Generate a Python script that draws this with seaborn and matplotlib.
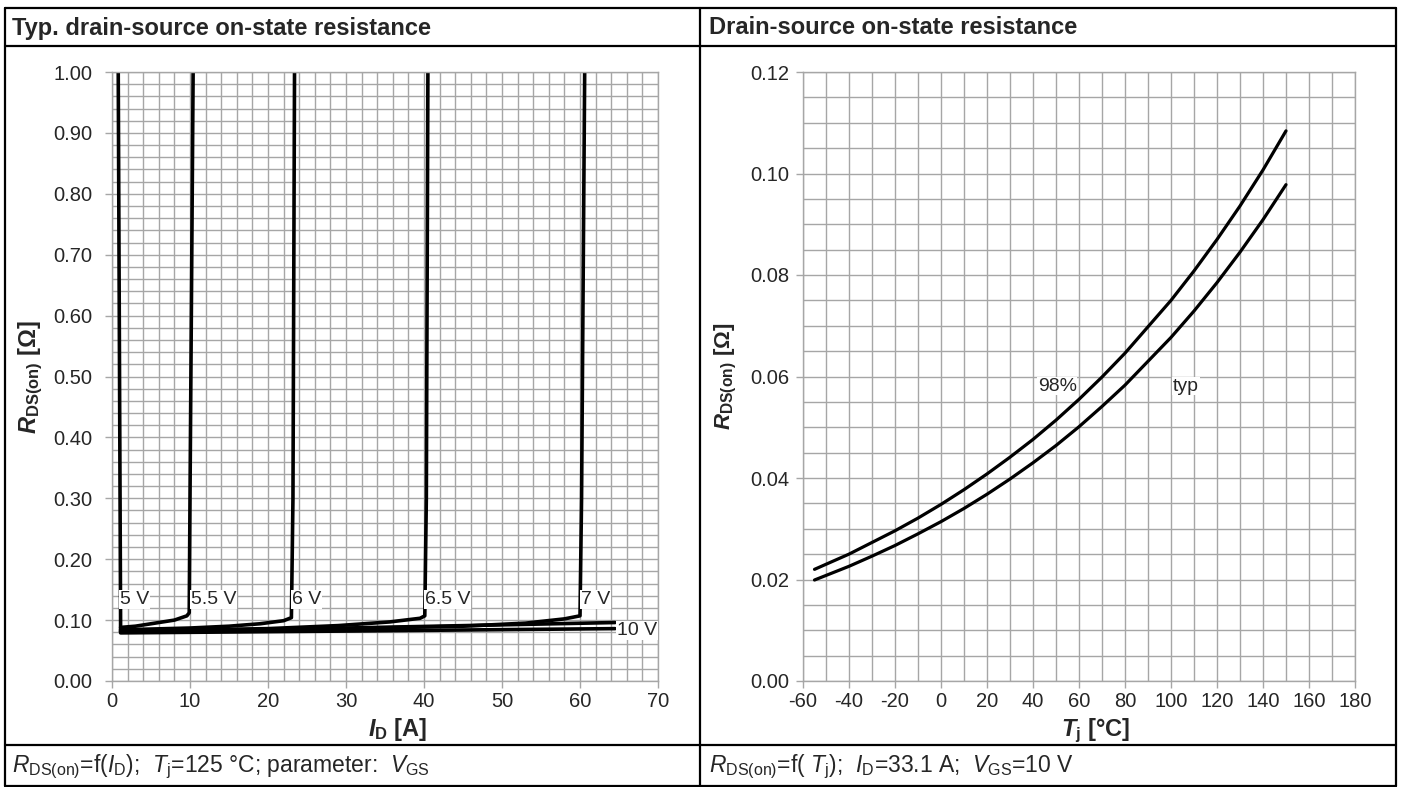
import numpy as np
import pandas as pd
import matplotlib
matplotlib.use("Agg")
import matplotlib.pyplot as plt
from matplotlib.lines import Line2D
import seaborn as sns

sns.set_style("white")
plt.rcParams['font.family'] = ['Liberation Sans', 'DejaVu Sans']
plt.rcParams['axes.unicode_minus'] = False
plt.rcParams['mathtext.fontset'] = 'custom'
plt.rcParams['mathtext.rm'] = 'Liberation Sans'
plt.rcParams['mathtext.it'] = 'Liberation Sans:italic'
plt.rcParams['mathtext.bf'] = 'Liberation Sans:bold'
plt.rcParams['mathtext.bfit'] = 'Liberation Sans:italic:bold'

# ---------------- data: left chart (R_DS(on) vs I_D, Tj=125 C) ----------------
vgs_names = ["5 V", "5.5 V", "6 V", "6.5 V", "7 V", "8 V", "10 V"]
i_5v = [1.1, 1.1, 1.0, 0.8]
r_5v = [0.082, 0.100, 0.400, 1.000]
i_55v = [1.1, 3.0, 5.5, 8.0, 9.6, 9.9, 10.0, 10.4]
r_55v = [0.088, 0.090, 0.095, 0.100, 0.107, 0.112, 0.300, 1.000]
i_6v = [1.1, 10.0, 15.0, 19.0, 22.0, 23.0, 23.2, 23.4]
r_6v = [0.084, 0.087, 0.090, 0.094, 0.099, 0.104, 0.300, 1.000]
i_65v = [1.1, 20.0, 29.0, 35.6, 39.5, 40.1, 40.3, 40.5]
r_65v = [0.082, 0.086, 0.091, 0.097, 0.103, 0.107, 0.300, 1.000]
i_7v = [1.1, 30.0, 45.0, 53.0, 58.0, 60.0, 60.2, 60.6]
r_7v = [0.081, 0.086, 0.090, 0.095, 0.102, 0.107, 0.300, 1.000]
i_8v = [1.1, 30.0, 64.5]
r_8v = [0.081, 0.087, 0.096]
i_10v = [1.1, 30.0, 64.5]
r_10v = [0.079, 0.082, 0.086]

label_names = ["5 V", "5.5 V", "6 V", "6.5 V", "7 V", "10 V"]
label_i = [1.0, 10.1, 23.1, 40.1, 60.1, 64.7]
label_r = [0.134, 0.134, 0.134, 0.134, 0.134, 0.083]

# ---------------- data: right chart (R_DS(on) vs Tj) ----------------
tj = [-55, -50, -40, -30, -20, -10, 0, 10, 20, 30, 40, 50, 60, 70, 80, 90,
      100, 110, 120, 130, 140, 150]
r_typ = [0.0199, 0.0208, 0.0226, 0.0246, 0.0267, 0.0290, 0.0314, 0.0340,
         0.0368, 0.0398, 0.0430, 0.0464, 0.0501, 0.0541, 0.0583, 0.0630,
         0.0677, 0.0729, 0.0785, 0.0845, 0.0909, 0.0978]
r_98 = [0.0220, 0.0230, 0.0250, 0.0273, 0.0296, 0.0321, 0.0348, 0.0377,
        0.0408, 0.0441, 0.0476, 0.0514, 0.0555, 0.0599, 0.0646, 0.0698,
        0.0750, 0.0808, 0.0870, 0.0936, 0.1007, 0.1084]

left_title = "Typ. drain-source on-state resistance"
right_title = "Drain-source on-state resistance"

# ---------------- build frames ----------------
curves_i = [i_5v, i_55v, i_6v, i_65v, i_7v, i_8v, i_10v]
curves_r = [r_5v, r_55v, r_6v, r_65v, r_7v, r_8v, r_10v]
rows = []
for name, xs, ys in zip(vgs_names, curves_i, curves_r):
    for x, y in zip(xs, ys):
        rows.append({"VGS": name, "I": x, "R": y})
df_left = pd.DataFrame(rows)

df_right = pd.concat([
    pd.DataFrame({"T": tj, "R": r_typ, "curve": "typ"}),
    pd.DataFrame({"T": tj, "R": r_98, "curve": "98%"}),
])

W, H = 1401, 787
fig = plt.figure(figsize=(W / 100, H / 100), dpi=100)
fig.patch.set_facecolor("white")

def fx(px):
    return px / W

def fy(py):
    return 1 - py / H

grid_c = "#a6a6a6"
ax1 = fig.add_axes([fx(112), fy(681), (658 - 112) / W, (681 - 72) / H])
ax2 = fig.add_axes([fx(803), fy(681), (1355 - 803) / W, (681 - 72) / H])

sns.lineplot(data=df_left, x="I", y="R", units="VGS", estimator=None, sort=False,
             color="black", lw=2.6, ax=ax1, legend=False)
sns.lineplot(data=df_right, x="T", y="R", hue="curve", palette=["black", "black"],
             estimator=None, sort=False, lw=2.3, ax=ax2, legend=False)

tick_fs = 14.5
for ax in (ax1, ax2):
    ax.set_axisbelow(True)
    ax.grid(which="both", color=grid_c, lw=1.0)
    for s in ax.spines.values():
        s.set_color(grid_c)
        s.set_linewidth(1.0)
    ax.tick_params(which="major", direction="out", length=5, width=1.0,
                   color=grid_c, labelsize=tick_fs, pad=3, left=True, bottom=True)
    ax.tick_params(which="minor", length=0)
ax1.tick_params(axis="y", pad=9)
ax2.tick_params(axis="y", pad=5)

ax1.set_xlim(0, 70)
ax1.set_ylim(0, 1.0)
ax1.set_xticks(np.arange(0, 71, 10))
ax1.set_xticks(np.arange(0, 71, 2), minor=True)
ax1.set_yticks(np.arange(0, 1.001, 0.1))
ax1.set_yticks(np.arange(0, 1.001, 0.02), minor=True)
ax1.set_yticklabels([f"{v:.2f}" for v in np.arange(0, 1.001, 0.1)])

ax2.set_xlim(-60, 180)
ax2.set_ylim(0, 0.12)
ax2.set_xticks(np.arange(-60, 181, 20))
ax2.set_xticks(np.arange(-60, 181, 10), minor=True)
ax2.set_yticks(np.arange(0, 0.1201, 0.02))
ax2.set_yticks(np.arange(0, 0.1201, 0.005), minor=True)
ax2.set_yticklabels([f"{v:.2f}" for v in np.arange(0, 0.1201, 0.02)])

lab_fs = 17
ax1.set_xlabel(r"$\mathbfit{I}_{\mathbf{D}}$ [A]", fontsize=lab_fs, fontweight="bold")
ax1.xaxis.set_label_coords(0.524, -0.058)
ax1.set_ylabel(r"$\mathbfit{R}_{\mathbf{DS(on)}}$ [Ω]", fontsize=lab_fs, fontweight="bold", labelpad=6)
ax2.set_xlabel(r"$\mathbfit{T}_{\mathbf{j}}$ [°C]", fontsize=lab_fs, fontweight="bold")
ax2.xaxis.set_label_coords(0.53, -0.058)
ax2.set_ylabel(r"$\mathbfit{R}_{\mathbf{DS(on)}}$ [Ω]", fontsize=16, fontweight="bold", labelpad=8)

box = dict(facecolor="white", edgecolor="none", pad=0.6)
for name, x, y in zip(label_names, label_i, label_r):
    ax1.text(x, y, name, fontsize=14, ha="left", va="center", bbox=box, zorder=5)
ax2.text(50.5, 0.0581, "98%", fontsize=14, ha="center", va="center", bbox=box, zorder=5)
ax2.text(106.5, 0.0581, "typ", fontsize=14, ha="center", va="center", bbox=box, zorder=5)

# frame lines
def hline(y, x0, x1, lw=1.6):
    fig.add_artist(Line2D([fx(x0), fx(x1)], [fy(y), fy(y)], color="black", lw=lw))

def vline(x, y0, y1, lw=1.6):
    fig.add_artist(Line2D([fx(x), fx(x)], [fy(y0), fy(y1)], color="black", lw=lw))

hline(8, 5, 1396)
hline(46, 5, 1396)
hline(745, 5, 1396)
hline(786, 5, 1396)
vline(5, 8, 786)
vline(1396, 8, 786)
vline(700, 8, 786)

title_fs = 17
fig.text(fx(12), fy(28), left_title, fontsize=title_fs, fontweight="bold", ha="left", va="center")
fig.text(fx(709), fy(28), right_title, fontsize=title_fs, fontweight="bold", ha="left", va="center")

foot_fs = 16.5
fig.text(fx(12), fy(767),
         r"$\mathit{R}_{\mathrm{DS(on)}}$=f($\mathit{I}_{\mathrm{D}}$);  $\mathit{T}_{\mathrm{j}}$=125 °C; parameter:  $\mathit{V}_{\mathrm{GS}}$",
         fontsize=foot_fs, ha="left", va="center")
fig.text(fx(709), fy(767),
         r"$\mathit{R}_{\mathrm{DS(on)}}$=f( $\mathit{T}_{\mathrm{j}}$);  $\mathit{I}_{\mathrm{D}}$=33.1 A;  $\mathit{V}_{\mathrm{GS}}$=10 V",
         fontsize=foot_fs, ha="left", va="center")

fig.savefig("out.png", dpi=100, facecolor="white")
